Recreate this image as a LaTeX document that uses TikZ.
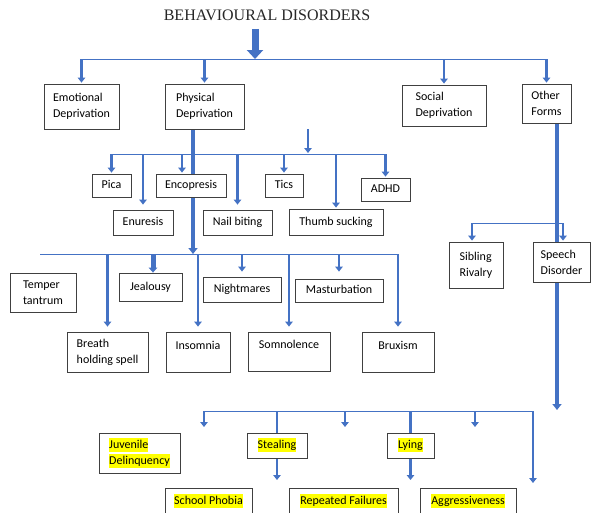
\documentclass[tikz,border=0pt]{standalone}
\usepackage{fontspec}
\setmainfont{Carlito}
\newfontfamily\titlefont{Liberation Serif}
\usetikzlibrary{arrows.meta,backgrounds}

\definecolor{arrblue}{HTML}{4472C4}
\definecolor{boxline}{HTML}{404040}
\definecolor{hlyellow}{HTML}{FFFF00}
\newcommand{\hlt}[1]{{\setlength{\fboxsep}{0pt}\colorbox{hlyellow}{\rule[-3.5pt]{0pt}{14pt}#1}}}

\begin{document}
\begin{tikzpicture}[
  x=1pt, y=-1pt,
  font=\fontsize{12}{16}\selectfont,
  box/.style={draw=boxline, line width=0.8pt, fill=white, align=left,
              inner xsep=2pt, inner ysep=4pt},
  one/.style={box, align=center, text height=9pt, text depth=3pt},
  upper/.style={text depth=15pt},
  wh/.style 2 args={minimum width=#1, minimum height=#2},
  bar/.style={draw=arrblue, line width=1pt},
  drop/.style={draw=arrblue, line width=2.8pt, shorten >=1pt,
               -{Triangle[length=5pt,width=7.5pt]}},
  gap/.style={shorten >=5pt},
  feed/.style={draw=arrblue, line width=2.8pt},
  fat/.style={draw=arrblue, line width=5pt, -{Triangle[length=5pt,width=8.5pt]}},
  trunk/.style={draw=arrblue, line width=4.5pt, -{Triangle[length=6pt,width=9pt]}},
  bigarrow/.style={draw=arrblue, line width=7pt, -{Triangle[length=9pt,width=16pt]}}
]
\useasboundingbox (0,0) rectangle (591,512);

% title
\node[font=\titlefont\fontsize{16}{19}\selectfont, text=black!85] (title) at (267,15) {BEHAVIOURAL DISORDERS};

% first level
\node[box, wh={75pt}{45pt}] (emo) at (81.5,106.5) {Emotional\\Deprivation};
\node[box, wh={79pt}{45pt}] (phys) at (204.5,106.5) {Physical\\Deprivation};
\node[box, wh={84pt}{41pt}] (soc) at (444,105.5) {Social\\Deprivation};
\node[box, wh={49pt}{39pt}] (other) at (546.5,103.5) {Other\\Forms};

% physical deprivation, second row
\node[one, wh={39pt}{23pt}] (pica) at (111.5,185.5) {Pica};
\node[one, wh={70pt}{23pt}] (enc) at (191,185.5) {Encopresis};
\node[one, wh={38pt}{23pt}] (tics) at (284,185.5) {Tics};
\node[one, wh={49pt}{23pt}] (adhd) at (385.5,189.5) {ADHD};
\node[one, wh={60pt}{25pt}] (enu) at (143,222.5) {Enuresis};
\node[one, wh={69pt}{25pt}] (nail) at (237.5,222.5) {Nail biting};
\node[one, wh={94pt}{26pt}] (thumb) at (336,222) {Thumb sucking};

% third row
\node[box, wh={66pt}{39pt}] (temper) at (43,292.5) {Temper\\tantrum};
\node[one, wh={63pt}{28pt}] (jeal) at (150.5,287) {Jealousy};
\node[one, wh={78pt}{25pt}] (night) at (242,289.5) {Nightmares};
\node[one, wh={88pt}{23pt}] (mast) at (339,290.5) {Masturbation};
\node[box, wh={81pt}{40pt}] (breath) at (107.5,352) {Breath\\holding spell};
\node[one, upper, wh={64pt}{40pt}] (insom) at (198,352) {Insomnia};
\node[one, upper, wh={82pt}{39pt}] (somno) at (289,351.5) {Somnolence};
\node[one, upper, wh={72pt}{40pt}] (brux) at (398,352) {Bruxism};

% other forms
\node[box, wh={54pt}{46pt}] (sib) at (476,265) {Sibling\\Rivalry};
\node[box, wh={57pt}{40pt}] (speech) at (561.5,262) {Speech\\Disorder};

% bottom rows
\node[box, wh={81pt}{40pt}] (juv) at (139.5,453) {\hlt{Juvenile}\\\hlt{Delinquency}};
\node[one, wh={60pt}{25pt}] (steal) at (277,445.5) {\hlt{Stealing}};
\node[one, wh={47pt}{25pt}] (lying) at (410.5,445.5) {\hlt{Lying}};
\node[one, wh={87pt}{26pt}] (school) at (208.5,501) {\hlt{School Phobia}};
\node[one, wh={109pt}{26pt}] (repeat) at (343.5,501) {\hlt{Repeated Failures}};
\node[one, wh={96pt}{26pt}] (aggr) at (468,501) {\hlt{Aggressiveness}};

% junctions
\coordinate (bar1) at (255,59);
\coordinate (bar2) at (308,154);
\coordinate (bar3) at (193,254);
\coordinate (bar3w) at (40,254);
\coordinate (bar4) at (563,223);
\coordinate (otip) at (557,410);
\coordinate (bar5w) at (204,411);
\coordinate (bar5a) at (345,411);
\coordinate (bar5b) at (475,411);
\coordinate (bar5e) at (533,411);
\coordinate (tips) at (0,428);
\coordinate (tipl) at (0,481);
\coordinate (tipr) at (0,484);

\begin{pgfonlayer}{background}
% top level
\draw[bigarrow, shorten <=5pt] (bar1 |- title.south) -- (bar1);
\draw[bar] (emo.north |- bar1) -- (other.north |- bar1);
\foreach \n in {emo,phys,soc,other}
  \draw[drop] (\n.north |- bar1) -- (\n.north);

% physical deprivation
\draw[drop] (bar2 |- phys.south) -- (bar2);
\draw[bar] (pica.north |- bar2) -- (adhd.north |- bar2);
\foreach \n in {pica,tics,adhd,thumb}
  \draw[drop] (\n.north |- bar2) -- (\n.north);
\draw[drop] ([xshift=-9pt]enc.north |- bar2) -- ([xshift=-9pt]enc.north);
\foreach \n in {enu,nail}
  \draw[drop, gap] (\n.north |- bar2) -- (\n.north);

\draw[trunk] (bar3 |- phys.south) -- (bar3);
\draw[bar] (bar3w) -- (brux.north |- bar3);
\draw[fat] ([xshift=2.5pt]jeal.north |- bar3) -- ([xshift=2.5pt]jeal.north);
\foreach \n in {breath,insom,somno,brux,night}
  \draw[drop, gap] (\n.north |- bar3) -- (\n.north);
\draw[drop, shorten >=7pt] (mast.north |- bar3) -- (mast.north);

% other forms
\draw[trunk] (otip |- other.south) -- (otip);
\draw[bar] ([xshift=-4pt]sib.north |- bar4) -- (bar4);
\draw[drop] ([xshift=-4pt]sib.north |- bar4) -- ([xshift=-4pt]sib.north);
\draw[drop] (bar4) -- (speech.north -| bar4);

% bottom
\draw[bar] (bar5w) -- (bar5e);
\foreach \c in {bar5w,bar5a,bar5b}
  \draw[drop] (\c) -- (\c |- tips);
\foreach \n in {steal,lying} {
  \draw[feed] (\n.north |- bar5w) -- (\n.north);
  \draw[drop] (\n.south) -- (\n.south |- tipl);
}
\draw[drop] (bar5e) -- (bar5e |- tipr);
\end{pgfonlayer}

\end{tikzpicture}
\end{document}
